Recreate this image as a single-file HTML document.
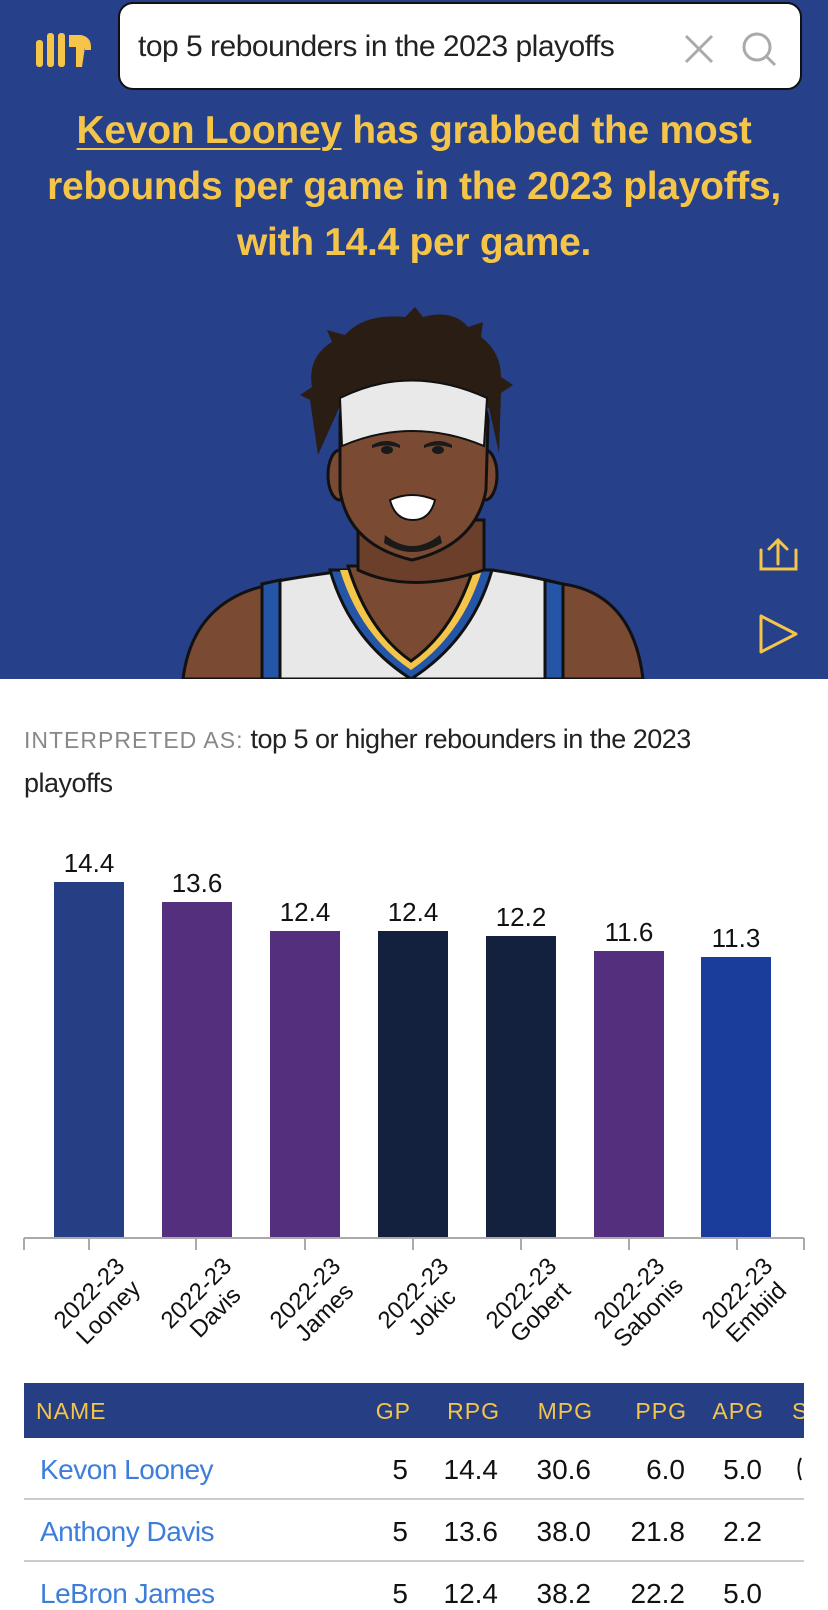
<!DOCTYPE html>
<html><head><meta charset="utf-8"><style>
*{margin:0;padding:0;box-sizing:border-box}
body{width:828px;height:1610px;background:#fff;font-family:"Liberation Sans",sans-serif;position:relative;overflow:hidden}
#hdr{position:absolute;left:0;top:0;width:828px;height:679px;background:#27408A;overflow:hidden}
.search{position:absolute;left:118px;top:2px;width:684px;height:88px;background:#fff;border:2px solid #111;border-radius:15px}
.search span{position:absolute;left:18px;top:26px;font-size:30px;color:#222;letter-spacing:-0.5px;white-space:nowrap}
.head{position:absolute;left:0;top:103px;width:828px;text-align:center;color:#F5C54A;font-weight:bold;font-size:39px;line-height:56px;letter-spacing:-0.3px;white-space:nowrap}
.head u{text-decoration-thickness:2px;text-underline-offset:5px}
.interp{position:absolute;left:24px;top:718px;font-size:27px;line-height:43px;color:#222;width:760px;letter-spacing:-0.5px}
.interp .g{color:#888;letter-spacing:1px;font-size:23px}
</style></head><body>
<div id="hdr">
<svg width="828" height="679" style="position:absolute;left:0;top:0">
 <g fill="#F5C54A">
  <rect x="36" y="40" width="7" height="27" rx="3"/><rect x="47" y="33" width="7" height="34" rx="3"/>
  <rect x="58" y="33" width="7" height="34" rx="3"/><path d="M69 35 h12 q10 2 10 12 v3 h-6 v-3 l-3 20 h-6 v-20 h-7z"/>
 </g>
 <g stroke="#F5C54A" stroke-width="3" fill="none" stroke-linecap="round">
  <path d="M761 550 v19 h35 v-19"/><path d="M778 564 v-23 M769 549 l9 -9 l9 9"/>
  <path d="M761 616 v36 l35 -18z" stroke-linejoin="round"/>
 </g>
 <g stroke="#111" stroke-width="3">
  <path d="M183 679 q10 -80 90 -95 l290 0 q70 10 80 95z" fill="#7A4A32"/>
  <path d="M262 679 v-95 q40 -8 90 -14 h140 q40 6 70 14 v95z" fill="#E8E8E8"/>
  <path d="M262 679 v-95 l18 -4 v99z" fill="#2455A6"/>
  <path d="M563 679 v-95 l-18 -4 v99z" fill="#2455A6"/>
  <path d="M330 570 q20 70 81 109 q61 -39 81 -109z" fill="#2455A6"/>
  <path d="M340 570 q20 65 71 100 q51 -35 71 -100z" fill="#F5C54A" stroke="none"/>
  <path d="M348 566 q20 65 63 95 q43 -30 63 -95z" fill="#7A4A32"/>
  <path d="M358 520 v50 q53 25 126 0 v-50z" fill="#6B3F2A"/>
  <ellipse cx="340" cy="475" rx="12" ry="25" fill="#7A4A32"/>
  <ellipse cx="485" cy="475" rx="12" ry="25" fill="#7A4A32"/>
  <path d="M340 420 q0 -40 72 -42 q72 2 76 42 l-2 70 q-10 55 -74 70 q-64 -15 -72 -70z" fill="#7A4A32"/>
 </g>
 <path d="M318 455 l-8 -55 l-10 -5 l12 -8 q-5 -30 20 -45 l-5 -12 l18 5 q20 -22 60 -18 l10 -10 l8 10 q30 -8 45 10 l15 -5 l-2 15 q20 15 20 40 l12 8 l-12 8 l-2 60 l-10 -45 q-60 -30 -150 0z" fill="#2A1D14"/>
 <path d="M340 398 q70 -35 147 0 l-3 48 q-72 -30 -142 0z" fill="#E9E9E9" stroke="#111" stroke-width="2"/>
 <g fill="#1a1a1a">
  <path d="M372 445 q15 -8 28 0 l0 3 q-14 -5 -28 0z"/><path d="M424 445 q15 -8 28 0 l0 3 q-14 -5 -28 0z"/>
  <ellipse cx="387" cy="450" rx="6" ry="4"/><ellipse cx="438" cy="450" rx="6" ry="4"/>
  <path d="M385 535 q27 22 55 0 l2 8 q-30 18 -58 0z"/>
 </g>
 <path d="M390 500 q22 -10 45 0 q-5 20 -22 20 q-18 0 -23 -20z" fill="#fff" stroke="#111" stroke-width="2"/>
</svg>
<div class="search"><span>top 5 rebounders in the 2023 playoffs</span>
<svg width="120" height="88" style="position:absolute;right:0;top:0"><g stroke="#aaa" stroke-width="3" fill="none"><path d="M6 32 l26 26 M32 32 l-26 26"/><circle cx="77" cy="43" r="13"/><path d="M86 52 l9 9"/></g></svg></div>
<div class="head"><u>Kevon Looney</u> has grabbed the most<br>rebounds per game in the 2023 playoffs,<br>with 14.4 per game.</div>
</div>
<div class="interp"><span class="g">INTERPRETED AS:</span> top 5 or higher rebounders in the 2023 playoffs</div>
<svg width="828" height="530" style="position:absolute;left:0;top:850px" font-family="Liberation Sans, sans-serif">
 <g transform="translate(0,-850)">
 <rect x="54" y="882" width="70" height="355" fill="#263F84"/>
 <rect x="162" y="902" width="70" height="335" fill="#542F7E"/>
 <rect x="270" y="931" width="70" height="306" fill="#542F7E"/>
 <rect x="378" y="931" width="70" height="306" fill="#13213F"/>
 <rect x="486" y="936" width="70" height="301" fill="#13213F"/>
 <rect x="594" y="951" width="70" height="286" fill="#542F7E"/>
 <rect x="701" y="957" width="70" height="280" fill="#1A3D9B"/>
 <g font-size="26" text-anchor="middle" fill="#111">
  <text x="89" y="872">14.4</text><text x="197" y="892">13.6</text><text x="305" y="921">12.4</text>
  <text x="413" y="921">12.4</text><text x="521" y="926">12.2</text><text x="629" y="941">11.6</text><text x="736" y="947">11.3</text>
 </g>
 <path d="M24 1238 H804 M24 1238 v12 M89 1238 v12 M196 1238 v12 M305 1238 v12 M413 1238 v12 M521 1238 v12 M629 1238 v12 M737 1238 v12 M804 1238 v12" stroke="#aaa" stroke-width="2" fill="none"/>
 <g font-size="24" text-anchor="middle" fill="#111">
  <g transform="translate(99,1303) rotate(-45)"><text y="-6">2022-23</text><text y="21">Looney</text></g>
  <g transform="translate(206,1303) rotate(-45)"><text y="-6">2022-23</text><text y="21">Davis</text></g>
  <g transform="translate(315,1303) rotate(-45)"><text y="-6">2022-23</text><text y="21">James</text></g>
  <g transform="translate(423,1303) rotate(-45)"><text y="-6">2022-23</text><text y="21">Jokic</text></g>
  <g transform="translate(531,1303) rotate(-45)"><text y="-6">2022-23</text><text y="21">Gobert</text></g>
  <g transform="translate(639,1303) rotate(-45)"><text y="-6">2022-23</text><text y="21">Sabonis</text></g>
  <g transform="translate(747,1303) rotate(-45)"><text y="-6">2022-23</text><text y="21">Embiid</text></g>
 </g>
 </g>
</svg>
<svg width="828" height="230" style="position:absolute;left:0;top:1380px" font-family="Liberation Sans, sans-serif">
 <g transform="translate(0,-1380)">
 <rect x="24" y="1383" width="780" height="55" fill="#263F84"/>
 <g font-size="23" fill="#F5C54A" letter-spacing="1">
  <text x="36" y="1419">NAME</text>
  <g text-anchor="end"><text x="411" y="1419">GP</text><text x="500" y="1419">RPG</text><text x="593" y="1419">MPG</text><text x="687" y="1419">PPG</text><text x="764" y="1419">APG</text></g>
  <text x="792" y="1419">S</text>
 </g>
 <rect x="804" y="1383" width="24" height="230" fill="#fff"/>
 <path d="M24 1499 H804 M24 1561 H804" stroke="#ccc" stroke-width="2"/>
 <g font-size="28" fill="#3D7EDB" letter-spacing="-0.5"><text x="40" y="1479">Kevon Looney</text><text x="40" y="1541">Anthony Davis</text><text x="40" y="1603">LeBron James</text></g>
 <g font-size="28" fill="#111" text-anchor="end">
  <text x="408" y="1479">5</text><text x="498" y="1479">14.4</text><text x="591" y="1479">30.6</text><text x="685" y="1479">6.0</text><text x="762" y="1479">5.0</text>
  <text x="408" y="1541">5</text><text x="498" y="1541">13.6</text><text x="591" y="1541">38.0</text><text x="685" y="1541">21.8</text><text x="762" y="1541">2.2</text>
  <text x="408" y="1603">5</text><text x="498" y="1603">12.4</text><text x="591" y="1603">38.2</text><text x="685" y="1603">22.2</text><text x="762" y="1603">5.0</text>
 </g>
 <path d="M801 1458 q-5 10 0 22" stroke="#111" stroke-width="2" fill="none"/>
 </g>
</svg>
</body></html>
